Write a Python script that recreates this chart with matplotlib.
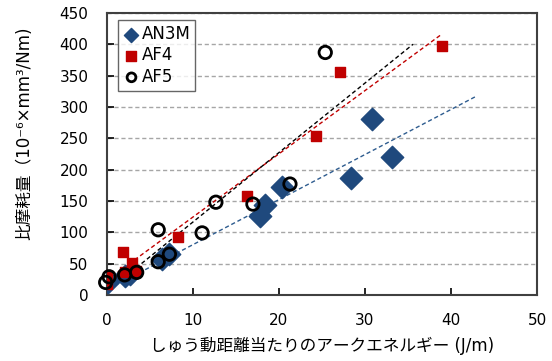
import numpy as np
import matplotlib.pyplot as plt

plt.rcParams['font.family'] = ['DejaVu Sans', 'Noto Sans CJK JP']

# Specific wear rate vs. arc energy per sliding distance
an3m_x = [0.2, 2.2, 2.7, 6.4, 7.2, 17.8, 18.4, 20.4, 28.4, 30.8, 33.1]
an3m_y = [20, 30, 34, 58, 66, 126, 143, 172, 187, 281, 220]

af4_x = [0.0, 0.1, 1.9, 3.0, 2.1, 3.4, 8.3, 16.3, 24.3, 27.1, 39.0]
af4_y = [30, 18, 68, 51, 36, 38, 92, 158, 254, 356, 397]

af5_x = [-0.1, 0.3, 2.1, 3.5, 6.0, 6.0, 7.3, 11.1, 12.7, 17.0, 21.3, 25.4]
af5_y = [20, 29, 32, 36, 104, 53, 65, 99, 148, 145, 177, 387]

# linear trend lines: slope, intercept, x range
an3m_fit = (7.2, 8.0, 0.2, 42.8)
af4_fit = (10.1, 23.0, 0.0, 38.9)
af5_fit = (11.1, 5.0, 0.3, 35.6)

blue = '#1F497D'
red = '#C00000'

fig = plt.figure(figsize=(5.52, 3.61), dpi=100)
ax = fig.add_axes([0.193, 0.183, 0.780, 0.781])

ax.set_axisbelow(True)
ax.yaxis.grid(True, color='#A6A6A6', linestyle=(0, (3, 2)), linewidth=1.0)

for (k, b, x0, x1), c in [(an3m_fit, '#2E5C8F'), (af4_fit, red), (af5_fit, 'black')]:
    xs = np.array([x0, x1])
    ax.plot(xs, k * xs + b, color=c, linestyle=(0, (3, 2)), linewidth=1.0, zorder=2)

ax.scatter(an3m_x, an3m_y, marker='D', s=130, color=blue, label='AN3M', zorder=3)
ax.scatter(af4_x, af4_y, marker='s', s=62, color=red, label='AF4', zorder=4)
ax.scatter(af5_x, af5_y, marker='o', s=80, facecolors='none', edgecolors='black',
           linewidths=2.0, label='AF5', zorder=5, clip_on=False)

ax.set_xlim(0, 50)
ax.set_ylim(0, 450)
ax.set_xticks(np.arange(0, 51, 10))
ax.set_yticks(np.arange(0, 451, 50))
ax.tick_params(direction='in', length=5, width=1.2, labelsize=11)
ax.tick_params(axis='y', pad=13)
ax.tick_params(axis='x', pad=13)
for s in ax.spines.values():
    s.set_linewidth(1.5)
    s.set_color('#404040')

ax.set_xlabel('しゅう動距離当たりのアークエネルギー (J/m)', fontsize=12, labelpad=6)
ax.set_ylabel('比摩耗量（10⁻⁶×mm³/Nm)', fontsize=12)
ax.yaxis.set_label_coords(-0.170, 0.574)

leg = ax.legend(loc='upper left', bbox_to_anchor=(0.027, 0.975), fontsize=12,
                frameon=True, fancybox=False, edgecolor='#404040',
                handletextpad=0.1, borderpad=0.3, labelspacing=0.2,
                handlelength=1.0, borderaxespad=0.0)
leg.get_frame().set_linewidth(1.0)
for h, size in zip(leg.legend_handles, [52, 60, 40]):
    h.set_sizes([size])

fig.savefig('out.png', dpi=100)
